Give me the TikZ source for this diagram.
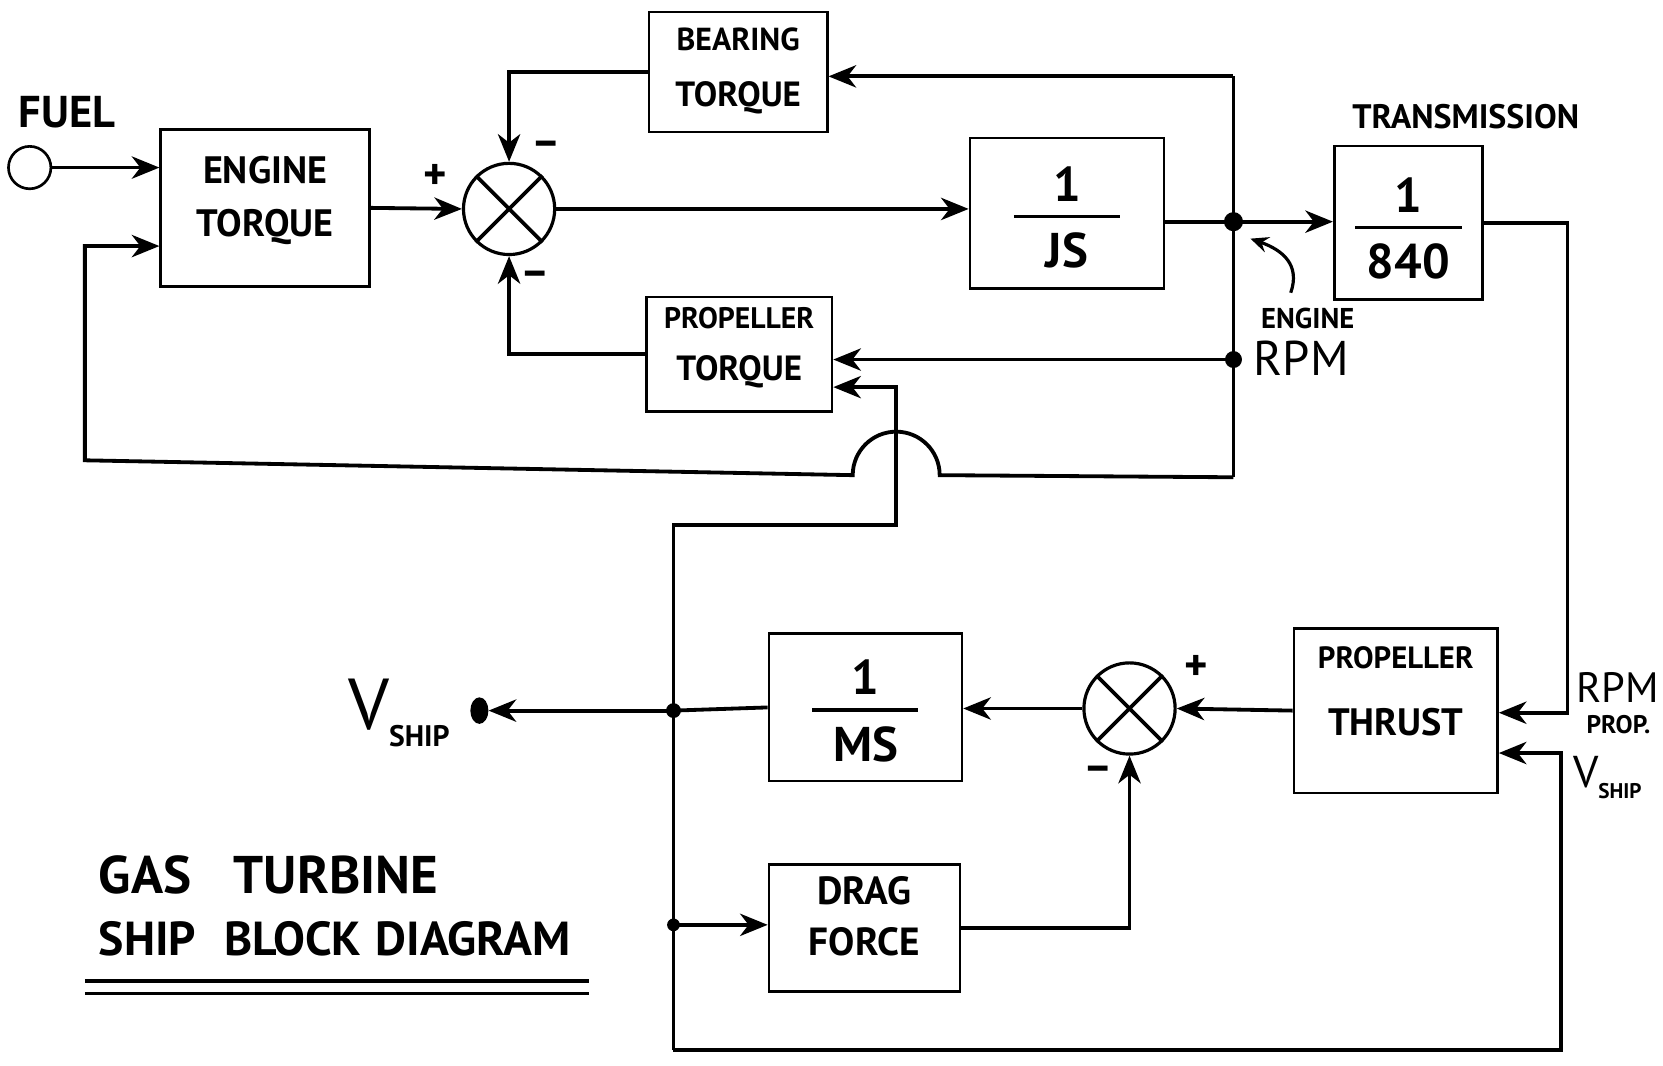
\documentclass[tikz,border=0pt]{standalone}
\usepackage{fontspec}
\setmainfont{PT Sans}
\usetikzlibrary{arrows.meta,shapes.geometric,calc}

% two text lines in a block: lift of first baseline, extra gap, lines
\newcommand\blktwo[4]{\raisebox{#1}[0pt][0pt]{\begin{tabular}[t]{@{}c@{}}#3\\[#2]#4\end{tabular}}}
% transfer fraction in a block
\newcommand\blkfrac[3]{\raisebox{#1}[0pt][0pt]{\begin{tabular}[t]{@{}c@{}}#2\\[-30pt]\rule{100pt}{3pt}\\#3\end{tabular}}}

\tikzset{
  blk/.style={rectangle, draw=black, line width=2.4pt, inner sep=0pt, font=\bfseries\fontsize{36}{40}\selectfont},
  fracblk/.style={blk, font=\bfseries\fontsize{46}{46}\selectfont},
  sumjct/.style={circle, draw=black, line width=3pt, minimum size=86pt, inner sep=0pt},
  xline/.style={line width=3.5pt},
  conn/.style={line width=3.6pt, draw=black},
  jdot/.style={fill=black},
  lbl/.style={inner sep=0pt, font=\bfseries\fontsize{32}{32}\selectfont},
  signs/.style={inner sep=0pt, font=\bfseries\fontsize{42}{42}\selectfont},
  uline/.style={line width=4pt},
}

\begin{document}
\begin{tikzpicture}[x=1pt, y=-1pt, >={Stealth[length=26pt,width=21pt,inset=8pt]}]
\useasboundingbox (0,0) rectangle (1568,1005);

% blocks
\node[blk, minimum width=197pt, minimum height=148pt] (engtq) at (250,196) {\blktwo{23pt}{10pt}{ENGINE}{TORQUE}};
\node[blk, minimum width=168pt, minimum height=113pt, font=\bfseries\fontsize{33}{40}\selectfont] (brgtq) at (696,68) {\blktwo{20pt}{12pt}{\fontsize{30}{40}\selectfont BEARING}{TORQUE}};
\node[blk, minimum width=175pt, minimum height=108pt, font=\bfseries\fontsize{33}{40}\selectfont] (prptq) at (697,334) {\blktwo{24pt}{9pt}{\fontsize{28}{40}\selectfont PROPELLER}{TORQUE}};
\node[fracblk, minimum width=183pt, minimum height=142pt] (invjs) at (1006,201) {\blkfrac{11pt}{1}{JS}};
\node[fracblk, minimum width=140pt, minimum height=145pt] (trans) at (1328,210) {\blkfrac{10pt}{1}{840}};
\node[fracblk, minimum width=182pt, minimum height=139pt] (invms) at (816,667) {\blkfrac{12pt}{1}{MS}};
\node[blk, minimum width=192pt, minimum height=155pt, font=\bfseries\fontsize{36}{40}\selectfont] (prpth) at (1316,670) {\blktwo{40pt}{23pt}{\fontsize{29}{40}\selectfont PROPELLER}{THRUST}};
\node[blk, minimum width=180pt, minimum height=120pt, font=\bfseries\fontsize{37}{40}\selectfont] (drag) at (815,875) {\blktwo{22pt}{8pt}{DRAG}{FORCE}};

% summing junctions
\node[sumjct] (sum1) at (480,197) {};
\node[sumjct] (sum2) at (1065,668) {};
\draw[xline] (sum1.north west) -- (sum1.south east) (sum1.north east) -- (sum1.south west);
\draw[xline] (sum2.north west) -- (sum2.south east) (sum2.north east) -- (sum2.south west);

\node[circle, draw=black, line width=2.5pt, minimum size=40pt, inner sep=0pt] (fuel) at (28,158) {};
\node[ellipse, fill=black, minimum width=17pt, minimum height=25pt, inner sep=0pt] (vdot) at (452,670) {};

% branch points
\coordinate (rpmtop) at (1163,72);
\coordinate (rpmA) at (1163,209);
\coordinate (rpmB) at (1163,339);
\coordinate (rpmbot) at (1163,450);
\coordinate (hop) at (845,448);
\coordinate (fbcorner) at (80,434);
\coordinate (fbin) at (80,232);
\coordinate (ptin) at (845,365);
\coordinate (vtap) at (845,495);
\coordinate (vcorner) at (635,495);
\coordinate (vshipj) at (635,670);
\coordinate (dragj) at (635,872);
\coordinate (vbot) at (635,990);
\coordinate (vsfb) at (1472,990);
\coordinate (vsin) at (1472,710);
\coordinate (rpmprop) at (1478,672);
\coordinate (rpmtag) at (1217,276);

% connectors
\draw[conn,->] (fuel) -- (engtq.west |- fuel);
\draw[conn,->] (engtq.east) -- (sum1.west);
\draw[conn,->] (brgtq.west) -| (sum1.north);
\draw[conn,->] (prptq.west) -| (sum1.south);
\draw[conn,->] (sum1.east) -- (invjs.west |- sum1.east);
\draw[conn] (invjs.east |- rpmA) -- (rpmA);
\draw[conn,->] (rpmA) -- (trans.west |- rpmA);
\draw[conn] (rpmtop) -- (rpmbot);
\draw[conn,->] (rpmtop) -- (brgtq.east |- rpmtop);
\draw[conn,->] (rpmB) -- (prptq.east |- rpmB);
\draw[conn,->] (rpmbot) -- ($(hop)+(41,0)$) arc[start angle=0, end angle=-180, radius=41] -- (fbcorner) -- (fbin) -- (engtq.west |- fbin);
\draw[conn,->] (vbot) -- (vcorner) -- (vtap) -- (ptin) -- (prptq.east |- ptin);
\draw[conn,->] (vbot) -- (vsfb) -- (vsin) -- (prpth.east |- vsin);
\draw[conn,->] (trans.east) -| (rpmprop) -- (prpth.east |- rpmprop);
\draw[conn,->] (prpth.west) -- (sum2.east);
\draw[conn,->] (sum2.west) -- (invms.east |- sum2.west);
\draw[conn] (invms.west) -- (vshipj);
\draw[conn,->] (vshipj) -- (vdot);
\draw[conn,->] (dragj) -- (drag.west |- dragj);
\draw[conn,->] (drag.east) -| (sum2.south);
\draw[conn, line width=3pt, -{Stealth[length=17pt,width=15pt,inset=6pt]}] (rpmtag) .. controls (1226,250) and (1210,236) .. ($(rpmA)+(16,16)$);

\fill[jdot] (rpmA) circle[radius=9pt];
\fill[jdot] (rpmB) circle[radius=8pt];
\fill[jdot] (vshipj) circle[radius=7pt];
\fill[jdot] (dragj) circle[radius=6pt];

% signs
\node[signs] (s1p) at (410,167) {+};
\node[signs] (s1t) at (515,140) {–};
\node[signs] (s1b) at (505,263) {–};
\node[signs] (s2p) at (1128,630) {+};
\node[signs] (s2m) at (1035,730) {–};

% labels
\node[lbl, font=\bfseries\fontsize{42}{42}\selectfont] (fuellbl) at (63,106) {FUEL};
\node[lbl] (translbl) at (1382,110) {TRANSMISSION};
\node[lbl, font=\bfseries\fontsize{27}{27}\selectfont] (englbl) at (1233,300) {ENGINE};
\node[lbl, font=\fontsize{46}{46}\selectfont] (rpmlbl) at (1227,338) {RPM};
\node[lbl, font=\fontsize{40}{40}\selectfont] (rpmplbl) at (1525,648) {RPM};
\node[lbl, font=\bfseries\fontsize{24}{24}\selectfont] (proplbl) at (1526,683) {PROP.};
\node[lbl, anchor=west, font=\fontsize{42}{42}\selectfont] (vsinlbl) at (1483,733) {V\raisebox{-10pt}{\bfseries\fontsize{20}{20}\selectfont SHIP}};
\node[lbl, anchor=west, font=\fontsize{68}{68}\selectfont] (vshiplbl) at (328,672) {V\raisebox{-16pt}{\bfseries\fontsize{28}{28}\selectfont SHIP}};

% title
\node[lbl, anchor=west, font=\bfseries\fontsize{50}{50}\selectfont] (title1) at (93,825) {GAS\hspace{0.8em}TURBINE};
\node[lbl, anchor=west, font=\bfseries\fontsize{45}{45}\selectfont] (title2) at (93,885) {SHIP\hspace{0.6em}BLOCK\hspace{0.3em}DIAGRAM};
\draw[uline] (80,925) -- (555,925);
\draw[uline, line width=3.2pt] (80,937) -- (555,937);
\end{tikzpicture}
\end{document}
